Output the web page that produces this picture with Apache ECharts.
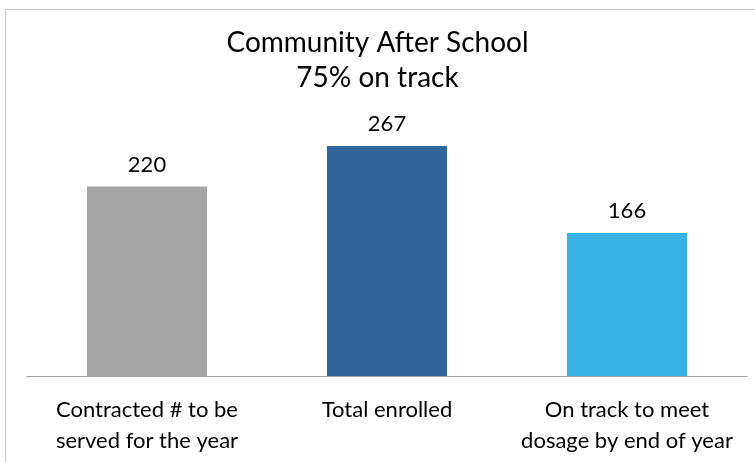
<!DOCTYPE html>
<html>
<head>
<meta charset="utf-8">
<script src="https://cdn.jsdelivr.net/npm/echarts@6/dist/echarts.min.js"></script>
<style>
  html, body { margin: 0; padding: 0; background: #fff; overflow: hidden; }
  #frame { position: absolute; left: 5px; top: 9px; width: 820px; height: 520px; border: 1px solid #c8c8c8; }
  #chart { position: absolute; left: 0; top: 0; width: 755px; height: 462px; }
</style>
</head>
<body>
<div id="frame"></div>
<div id="chart"></div>
<script>
// chart data
const categories = ['Contracted # to be\nserved for the year', 'Total enrolled', 'On track to meet\ndosage by end of year'];
const values = [220, 267, 166];
const barColors = ['#a6a6a6', '#33679b', '#38b2e2'];
const titleLines = ['Community After School', '75% on track'];

const FONT = 'Lato, "Open Sans", sans-serif';

const chart = echarts.init(document.getElementById('chart'), null, { renderer: 'canvas' });
chart.setOption({
  backgroundColor: 'transparent',
  animation: false,
  title: {
    text: titleLines.join('\n'),
    left: 'center',
    top: 20,
    textStyle: { fontFamily: FONT, fontWeight: 'normal', fontSize: 28, lineHeight: 35, color: '#000' }
  },
  grid: { left: 27, right: 8, top: 146, bottom: 86 },
  xAxis: {
    type: 'category',
    data: categories,
    axisLine: { show: true, lineStyle: { color: '#a0a0a0', width: 1 } },
    axisTick: { show: false },
    axisLabel: { fontFamily: FONT, fontSize: 22, lineHeight: 31, color: '#000', margin: 18, interval: 0 }
  },
  yAxis: {
    type: 'value',
    min: 0,
    max: 267,
    show: false,
    splitLine: { show: false }
  },
  series: [{
    type: 'bar',
    barWidth: '50%',
    data: values.map((v, i) => ({ value: v, itemStyle: { color: barColors[i] } })),
    label: {
      show: true,
      position: 'top',
      distance: 11,
      fontFamily: FONT,
      fontSize: 22,
      color: '#000'
    }
  }]
});
</script>
</body>
</html>
